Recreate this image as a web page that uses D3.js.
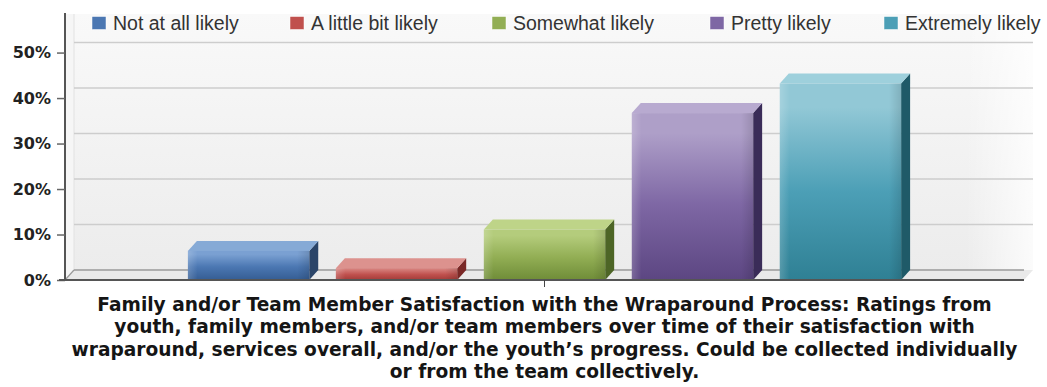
<!DOCTYPE html>
<html>
<head>
<meta charset="utf-8">
<script src="https://cdn.jsdelivr.net/npm/d3@7"></script>
<style>
  html, body { margin: 0; padding: 0; background: #ffffff; }
  svg { display: block; }
</style>
</head>
<body>
<svg id="chart" width="1047" height="387"></svg>
<script>
// ---- data ----
const categories = ["Family and/or Team Member Satisfaction"];
const seriesNames = ["Not at all likely", "A little bit likely", "Somewhat likely", "Pretty likely", "Extremely likely"];
const seriesValues = [6.4, 2.6, 11.1, 36.7, 43.2];
const yTicks = [0, 10, 20, 30, 40, 50];
const titleLines = [
  "Family and/or Team Member Satisfaction with the Wraparound Process: Ratings from",
  "youth, family members, and/or team members over time of their satisfaction with",
  "wraparound, services overall, and/or the youth\u2019s progress. Could be collected individually",
  "or from the team collectively."
];
const palette = [
  { light: "#7aa0d2", mid: "#4b77b2", dark: "#355d93", side: "#2a4468", top: "#86aad6" },
  { light: "#d47c78", mid: "#c0504d", dark: "#a23c39", side: "#7a2826", top: "#dc928e" },
  { light: "#b4cc7c", mid: "#92ae54", dark: "#6f8c38", side: "#4d6526", top: "#bed488" },
  { light: "#ae9fc8", mid: "#7e67a4", dark: "#5c4682", side: "#3a2c58", top: "#b8aad0" },
  { light: "#92c8d6", mid: "#4c9fb6", dark: "#2f8094", side: "#1f5a68", top: "#9ed0dc" }
];

// ---- layout ----
const svg = d3.select("#chart");
const X0 = 65, X1 = 1024, YB = 280, YT = 13;
const DX = 9, DY = -10;

const y = d3.scaleLinear().domain([0, 58.7]).range([YB, YT]);
const xCat = d3.scaleBand().domain(categories).range([X0, X1]).paddingInner(0.129).paddingOuter(0.129);
const xSer = d3.scaleBand().domain(seriesNames).range([0, xCat.bandwidth()]).paddingInner(0.18).paddingOuter(0.09);

const defs = svg.append("defs");
const wallGrad = defs.append("linearGradient").attr("id", "wall").attr("x1", 0).attr("y1", 0).attr("x2", 0).attr("y2", 1);
wallGrad.append("stop").attr("offset", 0).attr("stop-color", "#f9f9f9");
wallGrad.append("stop").attr("offset", 1).attr("stop-color", "#ececec");
const wallGradH = defs.append("linearGradient").attr("id", "wallH").attr("x1", 0).attr("y1", 0).attr("x2", 1).attr("y2", 0);
wallGradH.append("stop").attr("offset", 0).attr("stop-color", "#ffffff").attr("stop-opacity", 0);
wallGradH.append("stop").attr("offset", 0.93).attr("stop-color", "#ffffff").attr("stop-opacity", 0);
wallGradH.append("stop").attr("offset", 1).attr("stop-color", "#ffffff").attr("stop-opacity", 0.8);

palette.forEach((p, i) => {
  const g = defs.append("linearGradient").attr("id", "bar" + i).attr("x1", 0).attr("y1", 0).attr("x2", 0).attr("y2", 1);
  g.append("stop").attr("offset", 0).attr("stop-color", p.light);
  g.append("stop").attr("offset", 0.12).attr("stop-color", p.light);
  g.append("stop").attr("offset", 0.55).attr("stop-color", p.mid);
  g.append("stop").attr("offset", 1).attr("stop-color", p.dark);
  const gh = defs.append("linearGradient").attr("id", "barH" + i).attr("x1", 0).attr("y1", 0).attr("x2", 1).attr("y2", 0);
  gh.append("stop").attr("offset", 0).attr("stop-color", "#ffffff").attr("stop-opacity", 0.18);
  gh.append("stop").attr("offset", 0.08).attr("stop-color", "#ffffff").attr("stop-opacity", 0);
  gh.append("stop").attr("offset", 0.9).attr("stop-color", "#000000").attr("stop-opacity", 0);
  gh.append("stop").attr("offset", 1).attr("stop-color", "#000000").attr("stop-opacity", 0.12);
});

// back wall
svg.append("rect").attr("x", X0 + DX).attr("y", YT + 1).attr("width", X1 - X0).attr("height", YB + DY - YT - 1).attr("fill", "url(#wall)");
svg.append("rect").attr("x", X0 + DX).attr("y", YT + 1).attr("width", X1 - X0).attr("height", YB + DY - YT - 1).attr("fill", "url(#wallH)");
// left side wall
svg.append("path")
  .attr("d", `M${X0},${YB} L${X0 + DX},${YB + DY} L${X0 + DX},${YT + 1} L${X0},${YT + 1} Z`)
  .attr("fill", "#f6f6f6");
svg.append("line").attr("x1", X0 + DX).attr("x2", X0 + DX).attr("y1", YT + 1).attr("y2", YB + DY)
  .attr("stroke", "#e2e2e2").attr("stroke-width", 1);
// floor
svg.append("path")
  .attr("d", `M${X0},${YB} L${X0 + DX},${YB + DY} L${X1 + DX},${YB + DY} L${X1},${YB} Z`)
  .attr("fill", "#e9e9e9");

// gridlines on back wall
svg.append("g").selectAll("line").data(yTicks.filter(d => d > 0)).join("line")
  .attr("x1", X0 + DX).attr("x2", X1 + DX)
  .attr("y1", d => y(d) + DY).attr("y2", d => y(d) + DY)
  .attr("stroke", "#cdcdcd").attr("stroke-width", 1.5);
// floor back edge
svg.append("line").attr("x1", X0 + DX).attr("x2", X1).attr("y1", YB + DY).attr("y2", YB + DY)
  .attr("stroke", "#9a9a9a").attr("stroke-width", 1.5);
svg.append("line").attr("x1", X0).attr("x2", X0 + DX).attr("y1", YB).attr("y2", YB + DY)
  .attr("stroke", "#9a9a9a").attr("stroke-width", 1.2);

// bars
const barG = svg.append("g");
const cat = categories[0];
seriesNames.forEach((s, i) => {
  const v = seriesValues[i];
  const p = palette[i];
  const bx = xCat(cat) + xSer(s);
  const bw = xSer.bandwidth();
  const by = y(v);
  const g = barG.append("g");
  // side face
  g.append("path")
    .attr("d", `M${bx + bw},${YB} L${bx + bw + DX},${YB + DY} L${bx + bw + DX},${by + DY} L${bx + bw},${by} Z`)
    .attr("fill", p.side);
  // top face
  g.append("path")
    .attr("d", `M${bx},${by} L${bx + DX},${by + DY} L${bx + bw + DX},${by + DY} L${bx + bw},${by} Z`)
    .attr("fill", p.top);
  // front face
  g.append("rect").attr("x", bx).attr("y", by).attr("width", bw).attr("height", YB - by).attr("fill", `url(#bar${i})`);
  g.append("rect").attr("x", bx).attr("y", by).attr("width", bw).attr("height", YB - by).attr("fill", `url(#barH${i})`);
});

// y axis
const yAxis = d3.axisLeft(y).tickValues(yTicks).tickFormat(d => d + "%").tickSize(8).tickPadding(6);
const yg = svg.append("g").attr("transform", `translate(${X0},0)`).call(yAxis);
yg.select(".domain").attr("stroke", "#555").attr("stroke-width", 2).attr("d", `M0,${YT}V${YB + 1}`);
yg.selectAll(".tick line").attr("stroke", "#666").attr("stroke-width", 1.5);
yg.selectAll(".tick text")
  .attr("font-family", "'DejaVu Sans', Verdana, sans-serif")
  .attr("font-weight", "bold").attr("font-size", 16).attr("fill", "#222");

// x axis (front floor edge)
const xAxis = d3.axisBottom(xCat).tickSize(7).tickFormat("");
const xg = svg.append("g").attr("transform", `translate(0,${YB})`).call(xAxis);
xg.select(".domain").attr("stroke", "#555").attr("stroke-width", 2).attr("d", `M${X0 - 6},0H${X1}`);
xg.selectAll(".tick line").attr("stroke", "#444").attr("stroke-width", 1);

// legend
const legendX = [92, 290, 492, 710, 884];
const lg = svg.append("g");
seriesNames.forEach((s, i) => {
  lg.append("rect").attr("x", legendX[i]).attr("y", 16.5).attr("width", 14).attr("height", 13)
    .attr("fill", palette[i].mid).attr("stroke", "#ffffff").attr("stroke-width", 0.5);
  lg.append("text").attr("x", legendX[i] + 21).attr("y", 29.5)
    .attr("font-family", "'Liberation Sans', Arial, sans-serif")
    .attr("font-size", 19.5).attr("fill", "#333").text(s);
});

// title (category label)
const tg = svg.append("g");
const baselines = [311, 333.3, 355.6, 378];
const t = tg.selectAll("text").data(titleLines).join("text")
  .attr("x", (X0 + X1) / 2).attr("y", (d, i) => baselines[i])
  .attr("text-anchor", "middle")
  .attr("font-family", "'DejaVu Sans', Verdana, sans-serif")
  .attr("font-weight", "bold").attr("font-size", 17).attr("fill", "#151515")
  .text(d => d);
// fit first line to the reference width
const w0 = t.nodes()[0].getComputedTextLength();
const fs = 17 * 895 / w0;
t.attr("font-size", fs);
</script>
</body>
</html>
